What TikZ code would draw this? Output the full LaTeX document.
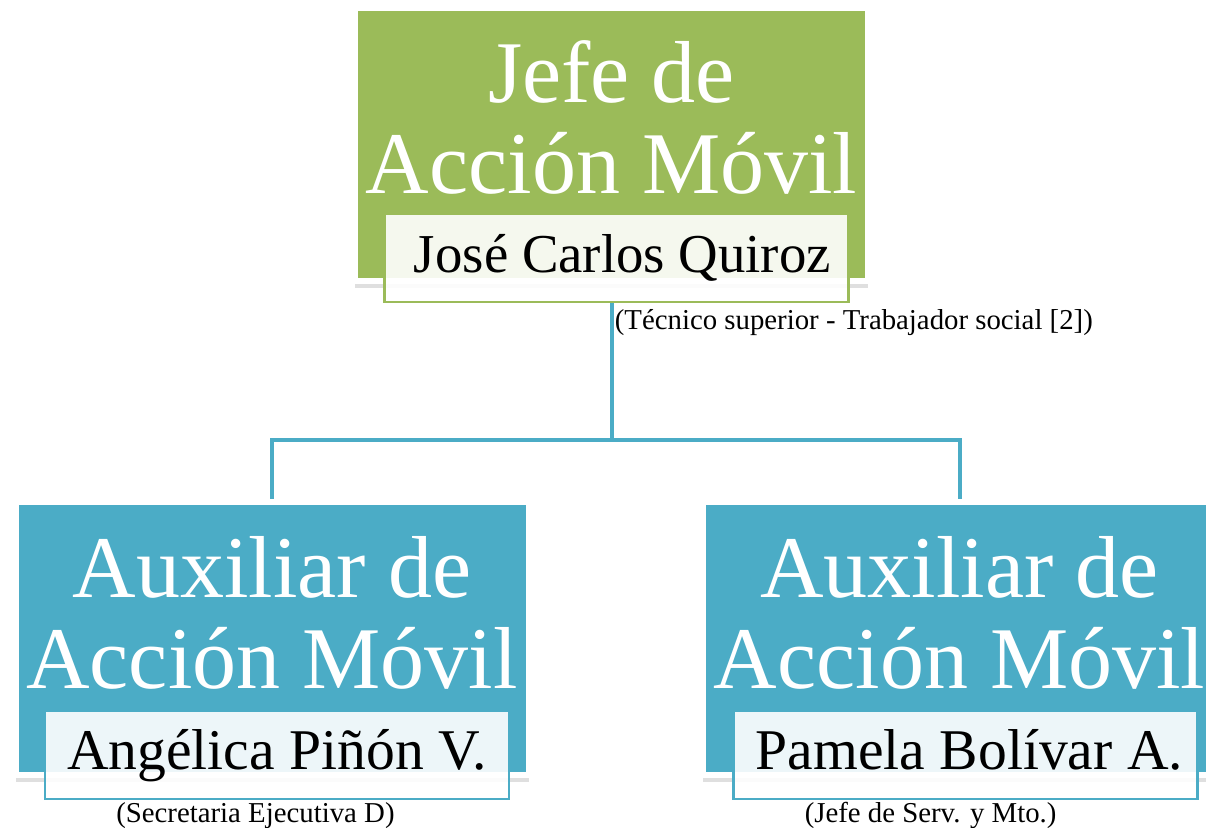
\documentclass[tikz,border=0pt]{standalone}
\usepackage{fontspec}
\setmainfont{Liberation Serif}
\usetikzlibrary{positioning,shadows}

\definecolor{jefegreen}{HTML}{9BBB59}
\definecolor{auxblue}{HTML}{4BACC6}

\tikzset{
  cargo/.style={rectangle, draw=white, line width=3pt, inner sep=0pt,
    minimum width=256.5pt, minimum height=136.5pt,
    drop shadow={shadow xshift=0pt, shadow yshift=-3.5pt, opacity=0.25}},
  titulo/.style={text=white, inner sep=0pt, align=center,
    font=\fontsize{44}{45.5}\selectfont},
  nombre/.style={rectangle, fill=white, fill opacity=0.9, text opacity=1,
    line width=1.1pt, minimum width=232pt, inner xsep=4pt, inner ysep=0pt,
    text height=29pt, text depth=15pt, font=\fontsize{28.8}{30}\selectfont},
  nota/.style={inner sep=0pt, font=\fontsize{14.4}{16}\selectfont},
  link/.style={draw=auxblue, line width=2pt}
}

\begin{document}
\begin{tikzpicture}
    \useasboundingbox (0,0) rectangle (603pt,414pt);

    % jefe
    \node[cargo, fill=jefegreen] (jefe) at (305.75pt,341.75pt) {};
    \node[titulo, anchor=north] (jefeT) at ([yshift=-17.5pt]jefe.north) {Jefe de\\Acción Móvil};
    \node[nombre, draw=jefegreen, anchor=north, font=\fontsize{27.4}{30}\selectfont] (jefeN)
        at ([xshift=2.5pt,yshift=35.5pt]jefe.south) {\hspace{6pt}José Carlos Quiroz};
    \coordinate (jefeD) at (jefe.south |- jefeN.south);
    \node[nota, below right=3pt and 1.5pt of jefeD] (jefeR) {(Técnico superior - Trabajador social [2])};

    % auxiliares
    \node[cargo, fill=auxblue] (auxA) at (136pt,94.75pt) {};
    \node[titulo, anchor=north] (auxAT) at ([yshift=-18.5pt]auxA.north) {Auxiliar de\\Acción Móvil};
    \node[nombre, draw=auxblue, anchor=north] (auxAN)
        at ([xshift=2.5pt,yshift=34pt]auxA.south) {Angélica Piñón V.};
    \node[nota, anchor=north west] (auxAR) at ([xshift=36pt,yshift=-1pt]auxAN.south west) {(Secretaria Ejecutiva D)};

    \node[cargo, fill=auxblue] (auxB) at (479.75pt,94.75pt) {};
    \node[titulo, anchor=north] (auxBT) at ([yshift=-18.5pt]auxB.north) {Auxiliar de\\Acción Móvil};
    \node[nombre, draw=auxblue, anchor=north] (auxBN)
        at ([xshift=3pt,yshift=34pt]auxB.south) {\hspace{4pt}Pamela Bolívar A.};
    \node[nota, anchor=north west] (auxBR) at ([xshift=36pt,yshift=-1pt]auxBN.south west) {(Jefe de Serv. y Mto.)};

    % lineas
    \coordinate (bar) at ([yshift=-78pt]jefe.south);
    \draw[link] (jefeD) -- (bar) -| (auxA.north);
    \draw[link] (bar) -| (auxB.north);
\end{tikzpicture}
\end{document}
